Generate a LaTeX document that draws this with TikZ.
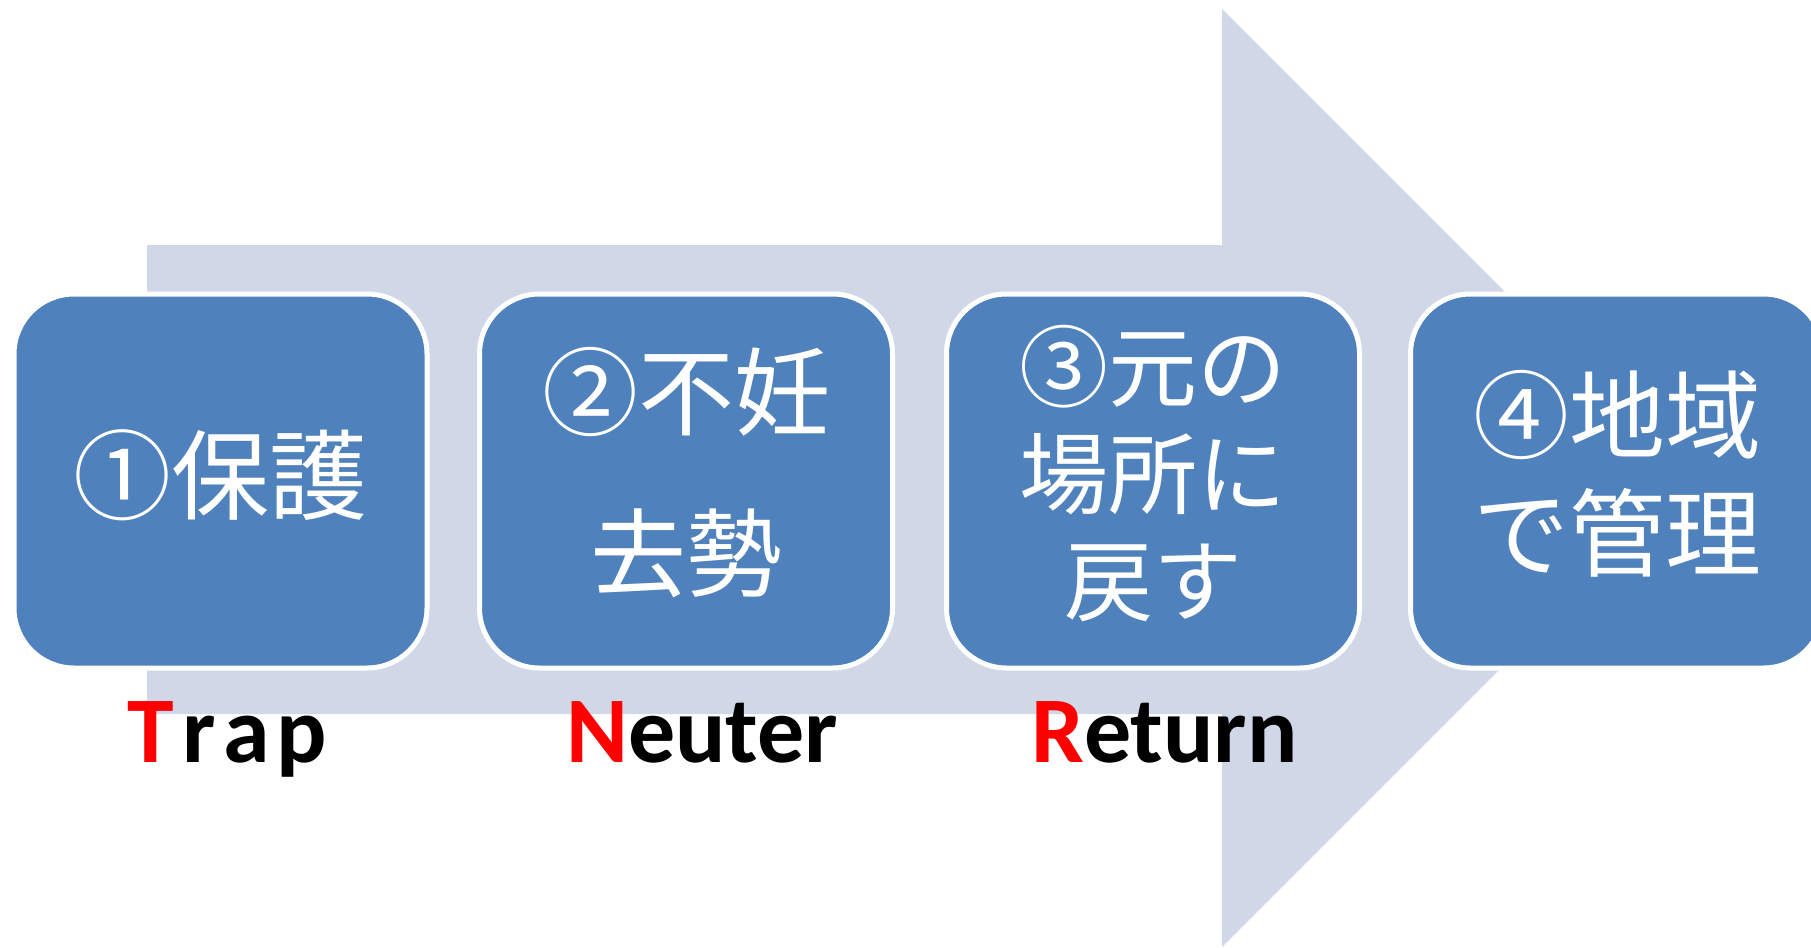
\documentclass[tikz,border=0pt]{standalone}
\usepackage{fontspec}
\setmainfont{Carlito}
\newfontfamily\jpfont{Noto Sans CJK JP}
\definecolor{boxblue}{HTML}{4F81BD}
\definecolor{arrowgray}{HTML}{D0D8E8}
\definecolor{lblred}{HTML}{FF0000}
\tikzset{
  stepbox/.style={draw=white, line width=5pt, fill=boxblue, rounded corners=60pt,
    minimum width=413pt, minimum height=374pt, inner sep=0pt},
  steptext/.style={text=white, align=center, inner sep=0pt},
  lbl/.style={anchor=base west, inner sep=0pt, font=\fontsize{94}{100}\selectfont\bfseries},
}
\begin{document}
\begin{tikzpicture}[x=1pt,y=-1pt]
\useasboundingbox (0,0) rectangle (1811,947);
\clip (0,0) rectangle (1811,947);
% big arrow
\fill[arrowgray] (147,245) -- (1222,245) -- (1222,9) -- (1691,478) -- (1222,947) -- (1222,714) -- (147,714) -- cycle;
% boxes
\node[stepbox] (b1) at (220.5,481) {};
\node[stepbox] (b2) at (686,481) {};
\node[stepbox] (b3) at (1153,481) {};
\node[stepbox] (b4) at (1617,481) {};
% texts
\node[steptext, font=\jpfont\fontsize{98}{110}\selectfont] (t1) at ([yshift=6pt]b1.center) {①保護};
\node[steptext, font=\jpfont\fontsize{96}{161}\selectfont] (t2) at ([yshift=8pt]b2.center) {②不妊\\去勢};
\node[steptext, font=\jpfont\fontsize{89}{107}\selectfont] (t3) at ([yshift=7pt]b3.center) {③元の\\場所に\\戻す};
\node[steptext, font=\jpfont\fontsize{96}{118}\selectfont] (t4) at ([yshift=7pt]b4.center) {④地域\\で管理};
% labels
\node[lbl] (l1) at (127,762) {\textcolor{lblred}{T}\kern9pt r\kern7pt a\kern7pt p};
\node[lbl] (l2) at (566,762) {\textcolor{lblred}{N}euter};
\node[lbl] (l3) at (1031,762) {\textcolor{lblred}{R}eturn};
\end{tikzpicture}
\end{document}
